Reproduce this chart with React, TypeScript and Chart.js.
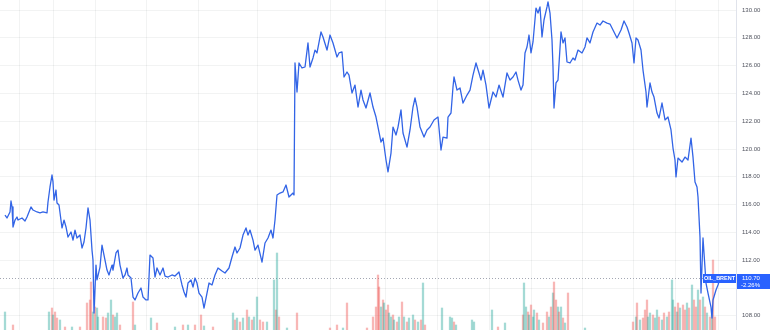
import React, { useEffect, useRef } from "react";
import { Chart, registerables } from "chart.js";

Chart.register(...registerables);

// ---- data ----
const symbol = "OIL_BRENT";
const lastPrice = 110.7;
const changeText = "-2.26%";

// time index (bar number) of each price sample
const priceTime = [
  5, 7, 10, 11, 12, 13, 15, 17, 18, 22, 25, 27, 31, 33, 37, 40, 43, 47, 48, 50, 52, 53, 54, 56, 57, 59, 62, 64, 66, 68,
  71, 73, 75, 77, 80, 82, 84, 86, 88, 90, 92, 93, 94, 96, 97, 100, 102, 104, 107, 109, 112, 113, 116, 118, 120, 123,
  125, 127, 128, 131, 133, 135, 138, 141, 143, 146, 148, 150, 153, 155, 157, 160, 163, 165, 168, 172, 175, 179, 182,
  184, 186, 188, 191, 193, 195, 197, 199, 202, 204, 207, 209, 212, 215, 218, 222, 225, 229, 232, 235, 237, 240, 243,
  246, 248, 250, 253, 255, 258, 262, 265, 268, 271, 273, 275, 277, 280, 283, 286, 289, 293, 294, 295, 297, 299, 302,
  305, 308, 310, 313, 315, 317, 321, 323, 327, 330, 333, 337, 339, 342, 344, 347, 349, 352, 355, 358, 361, 363, 366,
  370, 373, 376, 378, 381, 383, 386, 388, 391, 393, 396, 398, 401, 403, 407, 410, 413, 415, 417, 420, 424, 427, 430,
  434, 438, 441, 443, 447, 448, 451, 453, 454, 457, 460, 463, 467, 470, 473, 476, 479, 481, 483, 486, 489, 493, 496,
  499, 503, 507, 510, 513, 516, 518, 521, 523, 525, 527, 529, 531, 533, 536, 538, 540, 542, 544, 547, 548, 550, 552,
  553, 554, 556, 558, 561, 563, 565, 567, 570, 573, 575, 578, 582, 585, 587, 590, 593, 597, 600, 603, 607, 610, 613,
  617, 621, 624, 627, 629, 632, 634, 636, 638, 641, 643, 646, 647, 650, 652, 654, 657, 659, 662, 665, 668, 671, 673,
  675, 676, 678, 682, 685, 688, 691, 693, 695, 697, 698, 700, 701, 703, 704, 706, 708, 711, 712, 713, 716, 718, 720,
];

const priceValue = [
  115.25, 115.04, 115.47, 116.26, 115.83, 114.39, 114.89, 115.11, 114.89, 115.04, 114.82, 115.11, 115.83, 115.61,
  115.47, 115.4, 115.47, 115.4, 116.19, 117.27, 118.13, 117.63, 116.33, 117.05, 116.12, 115.97, 114.32, 114.89, 114.39,
  113.67, 114.03, 113.45, 114.17, 113.6, 113.81, 112.88, 113.31, 114.32, 115.76, 114.89, 112.73, 112.01, 108.2, 111.65,
  110.58, 111.51, 113.09, 112.37, 111.29, 110.94, 111.65, 111.29, 112.52, 112.73, 111.65, 110.72, 110.94, 111.44,
  110.94, 110.72, 109.35, 109.14, 109.64, 110.0, 109.35, 109.14, 109.14, 112.37, 112.16, 110.79, 111.44, 110.94,
  111.44, 110.86, 110.79, 110.94, 110.86, 111.15, 110.22, 109.71, 109.35, 110.36, 110.58, 110.07, 110.72, 110.36,
  109.64, 109.35, 108.56, 109.64, 110.36, 110.22, 110.94, 111.44, 111.22, 111.08, 111.44, 112.23, 112.95, 112.52,
  112.88, 113.81, 114.32, 113.81, 114.17, 113.45, 112.73, 113.09, 111.87, 113.24, 113.6, 114.17, 113.6, 114.89, 116.69,
  116.83, 116.91, 117.41, 116.55, 116.83, 116.69, 126.19, 124.1, 126.19, 125.83, 125.9, 127.63, 125.9, 126.55, 127.12,
  126.91, 128.42, 128.06, 127.12, 128.2, 127.63, 126.62, 126.91, 126.98, 125.18, 125.54, 125.32, 124.03, 124.6, 123.02,
  124.24, 123.53, 122.95, 124.03, 123.02, 122.3, 121.58, 120.5, 120.79, 119.21, 118.35, 119.71, 121.58, 121.01, 121.58,
  122.81, 121.15, 120.14, 121.37, 123.02, 123.67, 123.02, 121.58, 120.86, 121.37, 121.58, 122.09, 122.3, 119.93,
  120.86, 120.79, 122.3, 122.59, 124.46, 125.18, 124.24, 124.39, 123.31, 123.88, 124.24, 125.32, 126.19, 125.47,
  124.96, 125.68, 124.6, 122.95, 124.1, 123.74, 124.6, 123.74, 125.47, 124.96, 125.18, 125.54, 124.96, 124.24, 124.6,
  126.91, 127.34, 128.2, 126.91, 127.7, 130.14, 129.78, 130.22, 128.06, 129.28, 130.22, 130.58, 129.78, 127.84, 125.9,
  122.95, 124.75, 124.96, 128.42, 127.63, 127.99, 126.26, 126.19, 126.55, 126.4, 127.12, 126.91, 127.34, 127.99,
  127.63, 128.42, 129.06, 128.92, 129.21, 129.06, 128.99, 128.56, 127.99, 128.56, 129.21, 128.78, 128.35, 127.63,
  126.19, 127.99, 127.84, 127.12, 125.68, 124.1, 123.02, 124.75, 124.1, 123.74, 122.59, 122.23, 123.31, 122.09, 122.3,
  121.37, 120.07, 119.21, 117.99, 119.35, 119.06, 119.42, 119.21, 120.79, 119.42, 117.63, 117.27, 116.55, 113.67,
  109.64, 113.6, 112.52, 110.36, 109.64, 108.63, 107.84, 109.14, 109.86, 110.22, 110.7,
];

// volume bars (time index, volume in hundreds of lots, 1 = up bar / 0 = down bar)
const volTime = [
  5, 13, 49, 52, 53, 55, 57, 60, 65, 72, 80, 87, 90, 91, 93, 95, 97, 98, 103, 106, 108, 111, 113, 115, 117, 120, 133,
  135, 151, 157, 175, 183, 188, 195, 201, 204, 213, 233, 235, 237, 240, 243, 247, 249, 252, 254, 257, 260, 263, 267,
  274, 276, 277, 279, 287, 297, 330, 337, 343, 347, 367, 373, 376, 378, 379, 381, 383, 384, 386, 388, 389, 391, 393,
  394, 397, 399, 402, 404, 407, 409, 413, 415, 418, 421, 423, 425, 442, 450, 452, 454, 456, 472, 474, 492, 498, 505,
  523, 524, 526, 528, 529, 531, 533, 534, 537, 539, 543, 547, 549, 551, 553, 554, 556, 558, 559, 561, 563, 565, 568,
  585, 633, 636, 637, 640, 643, 645, 647, 648, 650, 653, 655, 657, 659, 662, 664, 667, 669, 672, 673, 675, 677, 678,
  680, 683, 685, 687, 689, 692, 694, 696, 698, 700, 703, 705, 707, 710, 712, 713, 715,
];
const volValue = [
  18, 5, 18, 22, 15, 18, 12, 10, 3, 3, 3, 27, 30, 48, 18, 23, 22, 13, 13, 12, 17, 30, 15, 13, 17, 5, 28, 5, 12, 7, 3,
  5, 5, 5, 15, 4, 3, 17, 10, 12, 8, 12, 20, 13, 10, 13, 33, 10, 8, 8, 50, 20, 77, 13, 2, 17, 2, 5, 2, 27, 2, 13, 23,
  55, 43, 23, 30, 27, 20, 25, 17, 13, 15, 10, 8, 13, 28, 13, 8, 12, 15, 10, 8, 10, 47, 5, 22, 13, 12, 8, 5, 10, 8, 20,
  3, 7, 15, 47, 23, 18, 15, 25, 13, 20, 17, 10, 7, 18, 13, 23, 37, 48, 30, 23, 18, 23, 12, 7, 37, 2, 8, 13, 27, 10,
  12, 20, 30, 13, 17, 15, 12, 20, 13, 10, 17, 13, 18, 50, 30, 23, 18, 27, 22, 25, 20, 27, 22, 45, 30, 23, 40, 30, 33,
  23, 17, 13, 20, 70, 13,
];
const volUp = [
  1, 0, 1, 0, 1, 0, 0, 1, 0, 1, 0, 0, 0, 0, 1, 0, 1, 1, 0, 0, 1, 1, 0, 1, 1, 0, 0, 1, 1, 0, 1, 0, 1, 0, 0, 1, 0, 1,
  0, 1, 0, 1, 0, 1, 0, 1, 1, 0, 0, 1, 1, 0, 1, 0, 1, 0, 0, 0, 1, 0, 0, 0, 0, 0, 0, 1, 0, 1, 0, 0, 1, 1, 0, 1, 0, 1,
  0, 1, 0, 1, 1, 0, 1, 0, 1, 0, 1, 1, 1, 0, 1, 1, 1, 1, 0, 1, 0, 1, 1, 0, 1, 0, 1, 1, 0, 1, 0, 0, 1, 0, 1, 0, 0, 1,
  0, 1, 0, 1, 0, 1, 0, 1, 0, 1, 0, 0, 0, 1, 1, 0, 1, 1, 0, 1, 0, 1, 0, 1, 1, 0, 1, 0, 1, 0, 0, 1, 0, 1, 0, 0, 1, 0,
  1, 0, 1, 0, 1, 0, 0, 1,
];

const priceTicks = [108, 110, 112, 114, 116, 118, 120, 122, 124, 126, 128, 130];
const hiddenTick = 110;
const sessionStarts = [5, 33, 74, 116, 177, 219, 295, 365, 406, 468, 510, 552, 613, 654, 697];
const timeMin = 0;
const timeMax = 736;
const priceMin = 106.98;
const priceMax = 130.72;
const volumeMax = 330;

const BLUE = "#2962ff";
const LINE_BLUE = "#3264e6";
const FONT = "'Liberation Sans', Arial, sans-serif";

const lastPricePlugin = {
  id: "lastPriceMarker",
  beforeDatasetsDraw(chart: any) {
    const { ctx, chartArea, scales } = chart;
    const y = Math.round(scales.y.getPixelForValue(lastPrice)) + 0.5;
    ctx.save();
    ctx.strokeStyle = "#a3a7b3";
    ctx.lineWidth = 1;
    ctx.setLineDash([1, 2]);
    ctx.beginPath();
    ctx.moveTo(chartArea.left, y);
    ctx.lineTo(chartArea.right, y);
    ctx.stroke();
    ctx.restore();
  },
  afterDraw(chart: any) {
    const { ctx, chartArea, scales } = chart;
    const y = Math.round(scales.y.getPixelForValue(lastPrice));
    ctx.save();
    // symbol tag
    ctx.fillStyle = BLUE;
    ctx.fillRect(chartArea.right - 33, y - 4, 33, 9);
    ctx.fillStyle = "#ffffff";
    ctx.font = `bold 5.5px ${FONT}`;
    ctx.textAlign = "center";
    ctx.textBaseline = "middle";
    ctx.fillText(symbol, chartArea.right - 16.5, y + 0.5);
    // price tag on the axis
    ctx.fillStyle = BLUE;
    ctx.fillRect(chartArea.right + 1, y - 4, 34, 15);
    ctx.fillStyle = "#ffffff";
    ctx.font = `6px ${FONT}`;
    ctx.textAlign = "left";
    ctx.fillText(lastPrice.toFixed(2), chartArea.right + 6, y + 0.5);
    ctx.fillText(changeText, chartArea.right + 5, y + 7.5);
    ctx.restore();
  },
};

export default function App() {
  const canvasRef = useRef<HTMLCanvasElement | null>(null);

  useEffect(() => {
    document.body.style.margin = "0";
    const canvas = canvasRef.current;
    if (!canvas) return;

    const linePoints = priceTime.map((t, i) => ({ x: t, y: priceValue[i] }));
    const volPoints = volTime.map((t, i) => ({ x: t, y: volValue[i] }));
    const volColors = volUp.map((u) => (u ? "rgba(38,166,154,0.42)" : "rgba(239,83,80,0.42)"));

    const chart = new Chart(canvas, {
      type: "line",
      data: {
        datasets: [
          {
            type: "line",
            data: linePoints,
            borderColor: LINE_BLUE,
            borderWidth: 1.3,
            pointRadius: 0,
            tension: 0,
            borderJoinStyle: "round",
            xAxisID: "x",
            yAxisID: "y",
            order: 0,
          } as any,
          {
            type: "bar",
            data: volPoints,
            backgroundColor: volColors,
            borderWidth: 0,
            barThickness: 1.6,
            xAxisID: "x",
            yAxisID: "yv",
            order: 1,
          } as any,
        ],
      },
      plugins: [lastPricePlugin],
      options: {
        animation: false,
        responsive: false,
        maintainAspectRatio: false,
        layout: { padding: 0 },
        plugins: { legend: { display: false }, tooltip: { enabled: false } },
        scales: {
          x: {
            type: "linear",
            min: timeMin,
            max: timeMax,
            offset: false,
            border: { display: false },
            grid: { color: "rgba(42,46,57,0.06)", drawTicks: false },
            ticks: { display: false },
            afterBuildTicks: (scale: any) => {
              scale.ticks = sessionStarts.map((v) => ({ value: v }));
            },
            afterFit: (scale: any) => {
              scale.height = 0;
              scale.paddingLeft = 0;
              scale.paddingRight = 0;
            },
          },
          y: {
            position: "right",
            min: priceMin,
            max: priceMax,
            border: { display: true, color: "#e0e3eb", width: 1 },
            grid: { color: "rgba(42,46,57,0.06)", drawTicks: false },
            afterBuildTicks: (scale: any) => {
              scale.ticks = priceTicks.map((v) => ({ value: v }));
            },
            afterFit: (scale: any) => {
              scale.width = 34;
              scale.paddingTop = 0;
              scale.paddingBottom = 0;
            },
            ticks: {
              padding: 6,
              color: "#50535e",
              font: { family: FONT, size: 6 },
              callback: (v: any) => (Number(v) === hiddenTick ? "" : Number(v).toFixed(2)),
            },
          },
          yv: {
            display: false,
            min: 0,
            max: volumeMax,
          },
        },
      } as any,
    });

    return () => chart.destroy();
  }, []);

  return (
    <div style={{ width: 770, height: 330, background: "#ffffff" }}>
      <canvas ref={canvasRef} width={770} height={330} />
    </div>
  );
}
